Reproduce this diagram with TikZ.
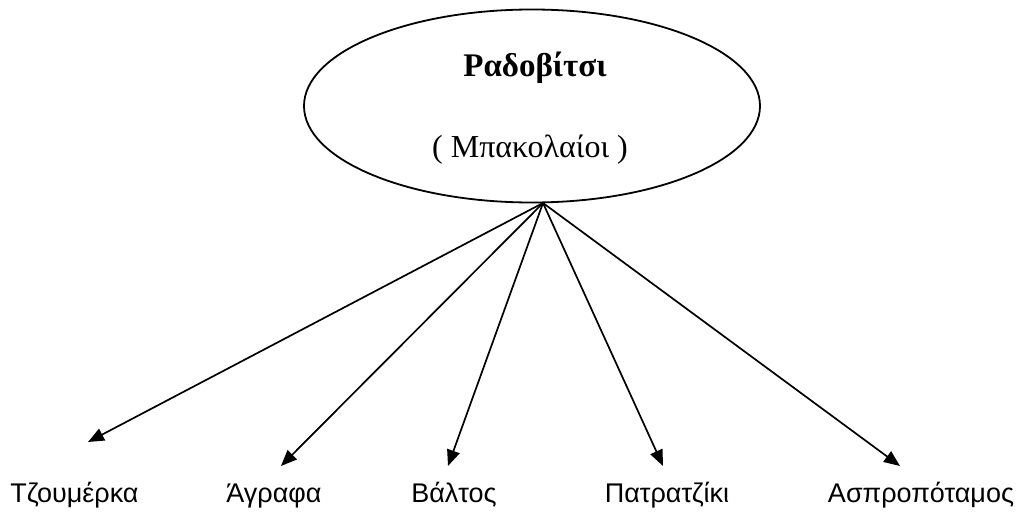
\documentclass[tikz,border=0pt]{standalone}
\usepackage{fontspec}
\setmainfont{Liberation Serif}
\newfontfamily\arialfont{Liberation Sans}
\usetikzlibrary{arrows.meta,shapes.geometric}
\tikzset{
  hub/.style={draw, ellipse, line width=1.8pt, minimum width=456pt, minimum height=193pt, inner sep=0pt},
  title/.style={anchor=base, inner sep=0pt, font=\fontsize{33}{38}\selectfont\bfseries},
  subtitle/.style={anchor=base, inner sep=0pt, font=\fontsize{32}{37}\selectfont},
  lab/.style={anchor=base, inner sep=0pt, font=\arialfont\fontsize{27}{32}\selectfont},
  link/.style={line width=1.7pt, -{Triangle[length=16pt,width=13pt]}}
}
\begin{document}
\begin{tikzpicture}[x=1pt,y=-1pt]
\useasboundingbox (0,0) rectangle (1027,511);
\node[hub] (c) at (532,106) {};
\node[title] (t1) at (535,77) {Ραδοβίτσι};
\node[subtitle] (t2) at (530,157) {( Μπακολαίοι )};
\coordinate (src) at (543,203);
\coordinate (e1) at (88,442);
\coordinate (e2) at (281,466);
\coordinate (e3) at (448,466);
\coordinate (e4) at (663,466);
\coordinate (e5) at (900,466);
\node[lab] (l1) at (74.5,502) {Τζουμέρκα};
\node[lab] (l2) at (274,502) {Άγραφα};
\node[lab] (l3) at (454,502) {Βάλτος};
\node[lab] (l4) at (667,502) {Πατρατζίκι};
\node[lab] (l5) at (921,502) {Ασπροπόταμος};
\foreach \e in {e1,e2,e3,e4,e5} \draw[link] (src) -- (\e);
\end{tikzpicture}
\end{document}
